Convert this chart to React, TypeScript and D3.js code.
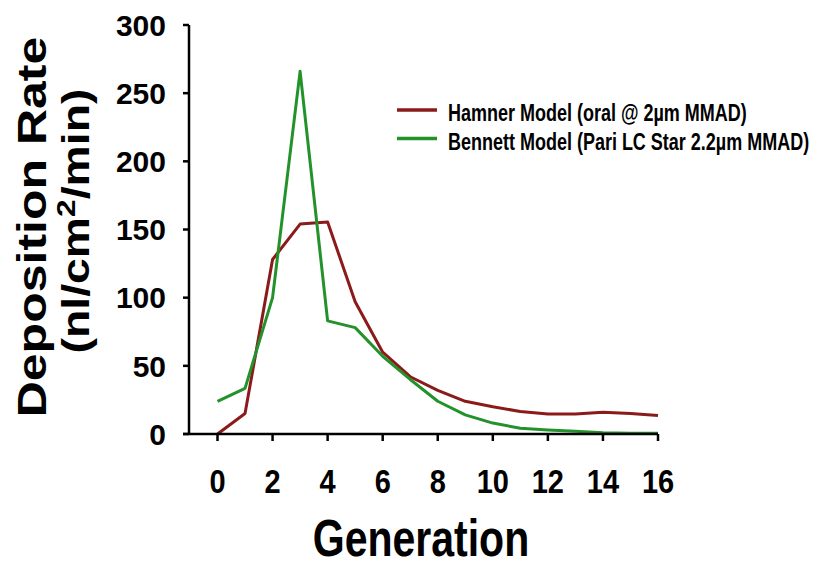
import React from "react";
import * as d3 from "d3";

const generations = [0, 1, 2, 3, 4, 5, 6, 7, 8, 9, 10, 11, 12, 13, 14, 15, 16];
const hamner = [0, 15, 128, 154, 155.5, 97, 60, 42, 32, 24, 20, 16.5, 14.7, 14.7, 16, 15, 13.5];
const bennett = [24, 33.5, 100, 266, 83, 78, 57, 40, 24, 14, 8, 4.2, 3, 2, 1, 0.5, 0.5];
const yTicks = [0, 50, 100, 150, 200, 250, 300];
const xTicks = [0, 2, 4, 6, 8, 10, 12, 14, 16];
const seriesNames = ["Hamner Model (oral @ 2\u00b5m MMAD)", "Bennett Model (Pari LC Star 2.2\u00b5m MMAD)"];
const seriesColors = ["#8B1A1A", "#23922A"];

const FONT = "'Liberation Sans', Arial, sans-serif";

export default function App() {
  const width = 813;
  const height = 569;

  const x = d3.scaleLinear().domain([0, 16]).range([217.5, 658]);
  const y = d3.scaleLinear().domain([0, 300]).range([434, 25]);

  const line = d3
    .line<number>()
    .x((_, i) => x(generations[i]))
    .y((d) => y(d));

  const series = [hamner, bennett];
  const axisLeft = 189;

  return (
    <svg
      width={width}
      height={height}
      style={{ position: "absolute", left: 0, top: 0, background: "#fff" }}
      fontFamily={FONT}
    >
      {/* data lines */}
      {series.map((s, i) => (
        <path
          key={i}
          d={line(s) || ""}
          fill="none"
          stroke={seriesColors[i]}
          strokeWidth={3}
          strokeLinejoin="round"
        />
      ))}

      {/* y axis */}
      <line x1={axisLeft} x2={axisLeft} y1={y(300)} y2={y(0)} stroke="#000" strokeWidth={2.5} />
      {yTicks.map((t) => (
        <g key={t}>
          <line x1={axisLeft - 6} x2={axisLeft} y1={y(t)} y2={y(t)} stroke="#000" strokeWidth={2.5} />
          <text
            x={166}
            y={y(t)}
            dy="0.36em"
            textAnchor="end"
            fontSize={30}
            fontWeight="bold"
          >
            {t}
          </text>
        </g>
      ))}

      {/* x axis */}
      <line x1={axisLeft - 6} x2={x(16)} y1={y(0)} y2={y(0)} stroke="#000" strokeWidth={2.5} />
      {xTicks.map((t) => (
        <g key={t}>
          <line x1={x(t)} x2={x(t)} y1={y(0)} y2={y(0) + 7} stroke="#000" strokeWidth={2.5} />
          <text
            transform={`translate(${x(t)},493) scale(1,1.17)`}
            textAnchor="middle"
            fontSize={29}
            fontWeight="bold"
          >
            {t}
          </text>
        </g>
      ))}

      {/* axis titles */}
      <text
        transform="translate(421,556) scale(1,1.28)"
        textAnchor="middle"
        fontSize={41}
        fontWeight="bold"
      >
        Generation
      </text>
      <text
        transform="translate(46,227) rotate(-90) scale(1.22,1)"
        textAnchor="middle"
        fontSize={41}
        fontWeight="bold"
      >
        Deposition Rate
      </text>
      <text
        transform="translate(89,221) rotate(-90) scale(1.22,1)"
        textAnchor="middle"
        fontSize={38}
        fontWeight="bold"
      >
        (nl/cm
        <tspan dy="-14" fontSize={26}>2</tspan>
        <tspan dy="14">/min)</tspan>
      </text>

      {/* legend */}
      {seriesNames.map((name, i) => {
        const ly = 110 + i * 28.5;
        return (
          <g key={name}>
            <line x1={397} x2={437} y1={ly} y2={ly} stroke={seriesColors[i]} strokeWidth={3.5} />
            <text
              transform={`translate(448,${ly + 11}) scale(1,1.3)`}
              fontSize={18}
              fontWeight="bold"
            >
              {name}
            </text>
          </g>
        );
      })}
    </svg>
  );
}
